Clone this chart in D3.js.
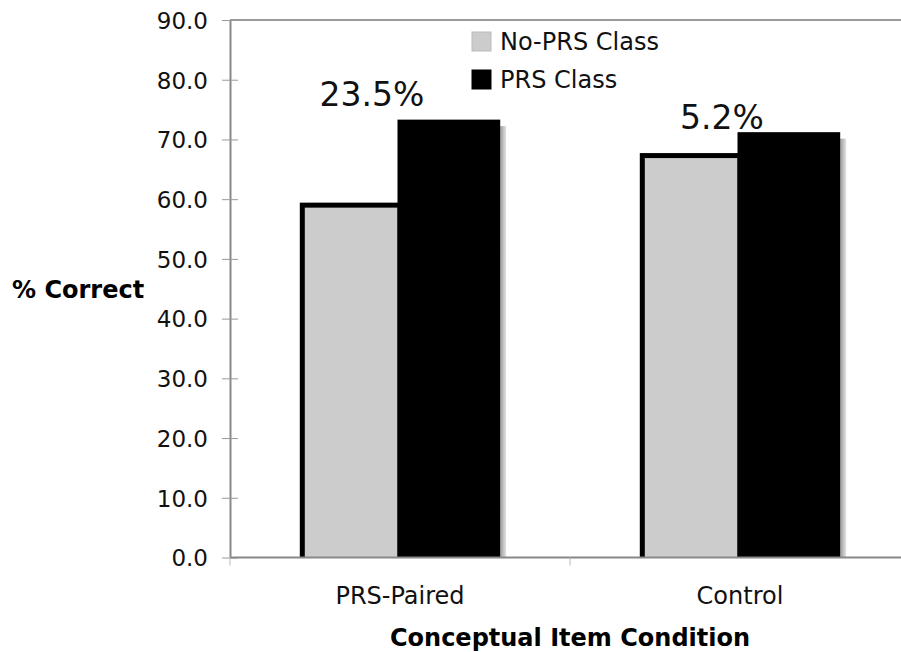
<!DOCTYPE html>
<html>
<head>
<meta charset="utf-8">
<script src="https://cdn.jsdelivr.net/npm/d3@7"></script>
<style>
  html, body { margin: 0; padding: 0; background: #fff; }
  svg { display: block; font-family: "DejaVu Sans", Verdana, sans-serif; }
</style>
</head>
<body>
<svg id="chart" width="901" height="652"></svg>
<script>
// ---- data ----
const categories = ["PRS-Paired", "Control"];
const seriesNames = ["No-PRS Class", "PRS Class"];
const noPrsValues = [59.0, 67.3];
const prsValues = [72.9, 70.8];
const diffLabels = ["23.5%", "5.2%"];
const yTicks = [0, 10, 20, 30, 40, 50, 60, 70, 80, 90];

const fills = ["#cccccc", "#000000"];

(function () {
const svg = d3.select("#chart");
const W = 901, H = 652;
const mLeft = 230, mRight = 910, mTop = 20, mBottom = 557.5;

const y = d3.scaleLinear().domain([0, 90]).range([mBottom, mTop]);
const x0 = d3.scaleBand().domain(categories).range([mLeft, mRight]).padding(0);
const x1 = d3.scaleBand().domain(seriesNames).range([0, x0.bandwidth()])
  .paddingInner(0).paddingOuter(0.74);

const defs = svg.append("defs");
const grad = defs.append("linearGradient").attr("id", "shadowGrad")
  .attr("x1", "0%").attr("x2", "100%").attr("y1", "0%").attr("y2", "0%");
grad.append("stop").attr("offset", "0%").attr("stop-color", "#9a9a9a");
grad.append("stop").attr("offset", "100%").attr("stop-color", "#e4e4e4");
defs.append("clipPath").attr("id", "plotClip").append("rect")
  .attr("x", mLeft).attr("y", 0).attr("width", W - mLeft).attr("height", mBottom);

// top border line
svg.append("line").attr("x1", mLeft).attr("x2", W).attr("y1", mTop).attr("y2", mTop)
  .attr("stroke", "#9a9a9a").attr("stroke-width", 2);

const data = categories.map((c, i) => ({
  cat: c,
  vals: [{ s: seriesNames[0], v: noPrsValues[i], k: 0 }, { s: seriesNames[1], v: prsValues[i], k: 1 }]
}));

const sw = 5; // bar stroke width
const plot = svg.append("g").attr("clip-path", "url(#plotClip)");

// shadows
data.forEach(d => {
  const last = d.vals[1];
  plot.append("rect")
    .attr("x", x0(d.cat) + x1(last.s) + x1.bandwidth() + sw / 2)
    .attr("y", y(last.v) + 4)
    .attr("width", 6)
    .attr("height", mBottom - y(last.v))
    .attr("fill", "url(#shadowGrad)");
});

// bars
const groups = plot.selectAll("g.grp").data(data).enter().append("g")
  .attr("transform", d => `translate(${x0(d.cat)},0)`);
groups.selectAll("rect.bar").data(d => d.vals).enter().append("rect")
  .attr("class", "bar")
  .attr("x", d => x1(d.s))
  .attr("y", d => y(d.v))
  .attr("width", x1.bandwidth())
  .attr("height", d => mBottom - y(d.v) + sw)
  .attr("fill", d => fills[d.k])
  .attr("stroke", "#000")
  .attr("stroke-width", sw);

// y axis
const yAxis = d3.axisLeft(y).tickValues(yTicks).tickFormat(d3.format(".1f"))
  .tickSizeInner(8).tickSizeOuter(0).tickPadding(14);
const ya = svg.append("g").attr("transform", `translate(${mLeft},0)`).call(yAxis);
ya.select(".domain").attr("stroke", "#888").attr("stroke-width", 2);
ya.selectAll(".tick line").attr("stroke", "#999").attr("x1", -8).attr("x2", 8);
ya.selectAll(".tick text").attr("font-size", 23).attr("fill", "#111")
  .attr("font-family", "DejaVu Sans, Verdana, sans-serif").attr("dy", "0.36em");

// x axis
const xa = svg.append("g").attr("transform", `translate(0,${mBottom})`);
xa.append("line").attr("x1", mLeft).attr("x2", W).attr("y1", 0).attr("y2", 0)
  .attr("stroke", "#888").attr("stroke-width", 2);
[mLeft, x0(categories[1]), mRight].forEach(t => {
  xa.append("line").attr("x1", t).attr("x2", t).attr("y1", 0).attr("y2", 8)
    .attr("stroke", "#bbb").attr("stroke-width", 1);
});
xa.selectAll("text.cat").data(categories).enter().append("text")
  .attr("class", "cat")
  .attr("x", d => x0(d) + x0.bandwidth() / 2)
  .attr("y", 46)
  .attr("text-anchor", "middle")
  .attr("font-size", 24).attr("fill", "#111")
  .text(d => d);

// axis titles
svg.append("text").attr("x", 12).attr("y", 298).attr("font-size", 24)
  .attr("font-weight", "bold").attr("fill", "#000").text("% Correct");
svg.append("text").attr("x", (mLeft + mRight) / 2).attr("y", 646)
  .attr("text-anchor", "middle").attr("font-size", 24)
  .attr("font-weight", "bold").attr("fill", "#000").text("Conceptual Item Condition");

// difference labels
const labelDx = [-28, -18];
const labelDy = [-16, -6];
data.forEach((d, i) => {
  const m = d3.max(d.vals, v => v.v);
  svg.append("text")
    .attr("x", x0(d.cat) + x0.bandwidth() / 2 + labelDx[i])
    .attr("y", y(m) + labelDy[i])
    .attr("text-anchor", "middle")
    .attr("font-size", 33).attr("fill", "#111")
    .text(diffLabels[i]);
});

// legend
const leg = svg.append("g").attr("transform", "translate(472,32)");
seriesNames.forEach((s, i) => {
  const g = leg.append("g").attr("transform", `translate(0,${i * 38})`);
  g.append("rect").attr("x", 0).attr("y", 0).attr("width", 19).attr("height", 19)
    .attr("fill", fills[i]).attr("stroke", i === 0 ? "#bbb" : "#000").attr("stroke-width", 1);
  g.append("text").attr("x", 28).attr("y", 18).attr("font-size", 24)
    .attr("fill", "#111").text(s);
});
})();
</script>
</body>
</html>
